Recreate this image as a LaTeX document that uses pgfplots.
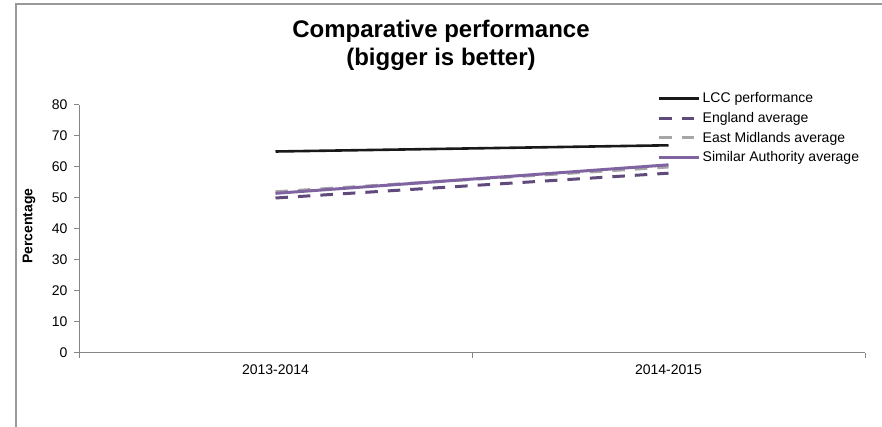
\documentclass[border=0pt]{standalone}
\usepackage{fontspec}
\setmainfont{Liberation Sans}
\usepackage{pgfplots}
\pgfplotsset{compat=1.18}
\definecolor{axgray}{RGB}{134,134,134}
\definecolor{lccblack}{RGB}{25,25,25}
\definecolor{engpurple}{RGB}{96,74,123}
\definecolor{emgray}{RGB}{166,166,166}
\definecolor{simpurple}{RGB}{128,100,162}
\begin{document}
\begin{tikzpicture}[x=1pt,y=1pt]
\useasboundingbox (0,0) rectangle (882,427);
\draw[color=black!40, line width=1.5pt] (16,-2) -- (16,423) -- (884,423);
\node[font=\bfseries\fontsize{24}{28}\selectfont, align=center] at (441,382) {Comparative performance\\(bigger is better)};
\begin{axis}[
  at={(79pt,74pt)}, anchor=south west,
  width=786pt, height=248pt, scale only axis,
  xmin=0.5, xmax=2.5, ymin=0, ymax=80,
  separate axis lines,
  axis x line=bottom, axis y line=left,
  axis line style={-, draw=axgray, line width=1pt},
  xtick={0.5,1.5,2.5}, xticklabels={},
  extra x ticks={1,2},
  extra x tick labels={2013-2014,2014-2015},
  extra x tick style={tick style={draw=none}, xticklabel style={yshift=-3pt}},
  ytick={0,10,...,80},
  yticklabel style={xshift=-3pt},
  tick align=outside,
  major tick length=5pt,
  tick style={draw=axgray, line width=1pt},
  tick label style={font=\fontsize{14}{16}\selectfont, text=black},
  /pgf/number format/assume math mode=true,
  every axis y label/.style={at={(rel axis cs:-0.0636,0.512)}, rotate=90, anchor=center, font=\bfseries\fontsize{14}{16}\selectfont},
  ylabel={Percentage},
  legend style={draw=none, fill=none, at={(rel axis cs:0.736,1.058)}, anchor=north west,
    font=\fontsize{14}{16}\selectfont, cells={anchor=west}, row sep=4pt, inner sep=0pt},
  legend image code/.code={\draw[#1] (0pt,0pt) -- (40pt,0pt);},
  clip=false,
]
\addplot[lccblack, line width=2.6pt] coordinates {(1,65) (2,67)};
\addlegendentry{LCC performance}
\addplot[engpurple, line width=3pt, dash pattern=on 12.5pt off 10pt] coordinates {(1,50) (2,58)};
\addlegendentry{England average}
\addplot[emgray, line width=3pt, dash pattern=on 12.5pt off 10pt] coordinates {(1,52) (2,60)};
\addlegendentry{East Midlands average}
\addplot[simpurple, line width=3pt] coordinates {(1,51.5) (2,60.7)};
\addlegendentry{Similar Authority average}
\end{axis}
\end{tikzpicture}
\end{document}
